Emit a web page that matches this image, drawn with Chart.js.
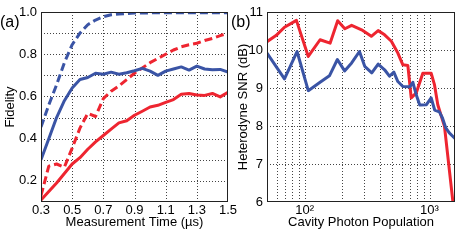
<!DOCTYPE html>
<html><head><meta charset="utf-8">
<script src="https://cdn.jsdelivr.net/npm/chart.js@4"></script>
<style>
html,body{margin:0;padding:0;background:#fff;width:457px;height:240px;overflow:hidden}
canvas{position:absolute;top:0}
#ca{left:0}
#cb{left:230px}
</style></head><body>
<canvas id="ca" width="242" height="240"></canvas>
<canvas id="cb" width="227" height="240"></canvas>
<script>
// ---------- Panel (a) data ----------
const timeA = [0.30,0.35,0.40,0.45,0.50,0.55,0.60,0.65,0.70,0.75,0.80,0.85,0.90,0.95,1.00,1.05,1.10,1.15,1.20,1.25,1.30,1.35,1.40,1.45,1.50];
const blueDashed = [0.455,0.56,0.655,0.76,0.845,0.90,0.94,0.962,0.978,0.987,0.991,0.993,0.995,0.995,0.996,0.996,0.996,0.996,0.996,0.996,0.996,0.996,0.996,0.996,0.996];
const blueSolid  = [0.30,0.40,0.50,0.58,0.64,0.68,0.69,0.71,0.705,0.715,0.705,0.712,0.722,0.733,0.72,0.70,0.72,0.73,0.74,0.725,0.744,0.73,0.727,0.728,0.715];
const redDashed  = [0.13,0.27,0.28,0.265,0.355,0.45,0.52,0.505,0.59,0.625,0.65,0.68,0.71,0.735,0.76,0.78,0.80,0.82,0.835,0.845,0.852,0.865,0.875,0.888,0.90];
const redSolid   = [0.11,0.15,0.19,0.235,0.28,0.31,0.35,0.385,0.415,0.445,0.475,0.485,0.511,0.53,0.55,0.558,0.572,0.585,0.61,0.614,0.607,0.605,0.614,0.598,0.62];
const xTicksA = [0.3,0.5,0.7,0.9,1.1,1.3,1.5];
const yTicksA = [0.1,0.2,0.3,0.4,0.5,0.6,0.7,0.8,0.9,1.0];

// ---------- Panel (b) data ----------
const blueN   = [50,69,87,107,133,158,183,209,238,275,303,345,388,437,478,518,558,612,695,736,783,835,945,1031,1100,1200,1270,1350,1440,1600];
const blueSNR = [9.92,9.24,9.96,8.93,9.15,9.32,9.75,9.45,9.66,9.96,9.57,9.40,9.63,9.48,9.31,9.42,9.17,9.04,9.03,9.15,8.82,8.55,8.56,8.74,8.42,8.37,8.21,7.95,7.82,7.67];
const redN    = [50,59,69,86,107,133,160,184,210,238,286,342,388,437,495,558,612,671,714,783,884,1031,1097,1165,1318,1540];
const redSNR  = [10.22,10.38,10.6,10.78,9.83,10.27,10.18,10.77,10.56,10.65,10.53,10.36,10.51,10.40,10.23,9.92,9.61,9.59,8.74,8.87,9.39,9.39,9.08,8.56,7.99,6.0];
const xTicksB = [50,60,70,80,90,100,200,300,400,500,600,700,800,900,1000];
const xLabelsB = {100:'10²', 1000:'10³'};
const yTicksB = [6,7,8,9,10,11];

const BLUE = '#3a54a5';
const RED = '#ee2530';
const FONT = "'Liberation Sans', Arial, Helvetica, sans-serif";
Chart.defaults.font.family = FONT;
Chart.defaults.font.size = 13;
Chart.defaults.color = '#000';

const gridPlugin = {
  id: 'matlabGrid',
  beforeDatasetsDraw(chart, args, opts) {
    const {ctx, chartArea: a, scales: {x, y}} = chart;
    ctx.save();
    ctx.strokeStyle = '#444';
    ctx.lineWidth = 1;
    ctx.setLineDash([1, 2]);
    x.ticks.forEach(t => {
      const px = Math.round(x.getPixelForValue(t.value)) + 0.5;
      if (px > a.left + 2 && px < a.right - 2) {
        ctx.beginPath(); ctx.moveTo(px, a.top); ctx.lineTo(px, a.bottom); ctx.stroke();
      }
    });
    y.ticks.forEach(t => {
      const py = Math.round(y.getPixelForValue(t.value)) + 0.5;
      if (py > a.top + 2 && py < a.bottom - 2) {
        ctx.beginPath(); ctx.moveTo(a.left, py); ctx.lineTo(a.right, py); ctx.stroke();
      }
    });
    ctx.restore();
  },
  afterDatasetsDraw(chart, args, opts) {
    const {ctx, chartArea: a} = chart;
    ctx.save();
    ctx.strokeStyle = '#222';
    ctx.lineWidth = 1;
    ctx.setLineDash([]);
    ctx.strokeRect(Math.round(a.left) + 0.5, Math.round(a.top) + 0.5,
                   Math.round(a.right - a.left) - 1, Math.round(a.bottom - a.top) - 1);
    ctx.restore();
  },
  afterDraw(chart, args, opts) {
    const ctx = chart.ctx;
    ctx.save();
    ctx.fillStyle = '#000';
    ctx.font = '16px ' + FONT;
    ctx.textAlign = 'left';
    ctx.textBaseline = 'middle';
    ctx.fillText(opts.label, opts.lx, opts.ly);
    ctx.restore();
  }
};

function line(data, color, dashed) {
  return {data, borderColor: color, borderWidth: 3, borderDash: dashed ? [8, 4] : [],
          pointRadius: 0, fill: false, tension: 0, borderCapStyle: 'butt', borderJoinStyle: 'round'};
}

new Chart(document.getElementById('ca'), {
  type: 'line',
  data: {datasets: [
    line(timeA.map((t, i) => ({x: t, y: blueDashed[i]})), BLUE, true),
    line(timeA.map((t, i) => ({x: t, y: blueSolid[i]})), BLUE, false),
    line(timeA.map((t, i) => ({x: t, y: redDashed[i]})), RED, true),
    line(timeA.map((t, i) => ({x: t, y: redSolid[i]})), RED, false)
  ]},
  plugins: [gridPlugin],
  options: {
    responsive: false, animation: false,
    layout: {padding: {left: 0, right: 14, top: 12, bottom: 0}},
    plugins: {legend: {display: false}, tooltip: {enabled: false},
              matlabGrid: {label: '(a)', lx: 0, ly: 23}},
    scales: {
      x: {type: 'linear', min: 0.3, max: 1.5,
          afterBuildTicks: s => { s.ticks = xTicksA.map(v => ({value: v})); },
          ticks: {padding: 1, autoSkip: false, maxRotation: 0, callback: v => Number(v).toFixed(1)},
          grid: {display: false, drawTicks: false}, border: {display: false},
          title: {display: true, text: 'Measurement Time (µs)', padding: {top: 0, bottom: 10}},
          afterFit: s => { s.height = 38; }},
      y: {type: 'linear', min: 0.1, max: 1.0,
          afterBuildTicks: s => { s.ticks = yTicksA.map(v => ({value: v})); },
          ticks: {padding: 4, autoSkip: false,
                  callback: v => { const k = Math.round(v * 10); return (k % 2 === 0) ? (k / 10).toFixed(1) : ''; }},
          grid: {display: false, drawTicks: false}, border: {display: false},
          title: {display: true, text: 'Fidelity', padding: {top: 3, bottom: 0}},
          afterFit: s => { s.width = 41; }}
    }
  }
});

new Chart(document.getElementById('cb'), {
  type: 'line',
  data: {datasets: [
    line(blueN.map((n, i) => ({x: n, y: blueSNR[i]})), BLUE, false),
    line(redN.map((n, i) => ({x: n, y: redSNR[i]})), RED, false)
  ]},
  plugins: [gridPlugin],
  options: {
    responsive: false, animation: false,
    layout: {padding: {left: 0, right: 2, top: 12, bottom: 0}},
    plugins: {legend: {display: false}, tooltip: {enabled: false},
              matlabGrid: {label: '(b)', lx: 1, ly: 23}},
    scales: {
      x: {type: 'logarithmic', min: 50, max: 1600,
          afterBuildTicks: s => { s.ticks = xTicksB.map(v => ({value: v})); },
          ticks: {padding: 1, autoSkip: false, maxRotation: 0, callback: v => xLabelsB[Math.round(v)] || ''},
          grid: {display: false, drawTicks: false}, border: {display: false},
          title: {display: true, text: 'Cavity Photon Population', padding: {top: 0, bottom: 10}},
          afterFit: s => { s.height = 38; }},
      y: {type: 'linear', min: 6, max: 11,
          afterBuildTicks: s => { s.ticks = yTicksB.map(v => ({value: v})); },
          ticks: {padding: 4, autoSkip: false, callback: v => String(Math.round(v))},
          grid: {display: false, drawTicks: false}, border: {display: false},
          title: {display: true, text: 'Heterodyne SNR (dB)', padding: {top: 6, bottom: 0}},
          afterFit: s => { s.width = 37; }}
    }
  }
});
</script>
</body></html>
